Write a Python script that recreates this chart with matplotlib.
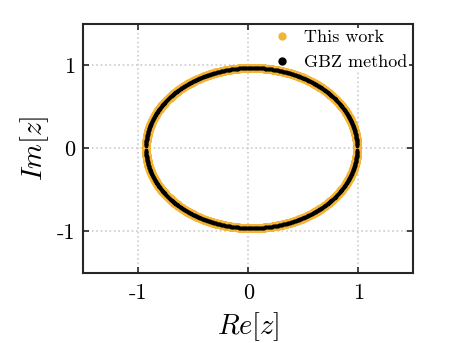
import numpy as np
import matplotlib
matplotlib.use("Agg")
import matplotlib.pyplot as plt

plt.rcParams['mathtext.fontset'] = 'cm'
plt.rcParams['font.family'] = ['cmr10', 'DejaVu Serif']
plt.rcParams['axes.unicode_minus'] = False

# GBZ curve parameters
center_x = 0.03
radius_x = 0.96
radius_y = 0.965
theta_this = np.linspace(0, 2 * np.pi, 800)
theta_gbz = np.concatenate([np.linspace(0.03, np.pi - 0.03, 600),
                            np.linspace(np.pi + 0.03, 2 * np.pi - 0.03, 600)])

xticks = [-1, 0, 1]
yticks = [-1, 0, 1]
tick_labels = ['-1', '0', '1']

W, H = 457, 343
fig = plt.figure(figsize=(W / 100, H / 100), dpi=100)
left, right, top, bottom = 83.3, 413.3, 23.5, 272.5
ax = fig.add_axes([left / W, 1 - bottom / H, (right - left) / W, (bottom - top) / H])

x1 = center_x + radius_x * np.cos(theta_this)
y1 = radius_y * np.sin(theta_this)
x2 = center_x + radius_x * np.cos(theta_gbz)
y2 = radius_y * np.sin(theta_gbz)

ax.plot(x1, y1, 'o', color='#F4B535', markersize=6.5, markeredgewidth=0, label='This work', zorder=6)
ax.plot(x2, y2, 'o', color='black', markersize=2.6, markeredgewidth=0, label='GBZ method', zorder=7)

ax.set_xlim(-1.5, 1.5)
ax.set_ylim(-1.5, 1.5)
ax.set_xticks(xticks)
ax.set_yticks(yticks)
ax.set_xticklabels(tick_labels, fontsize=16)
ax.set_yticklabels(tick_labels, fontsize=16)
ax.tick_params(direction='in', top=True, right=True, length=4, width=1.2, color='#262626')
ax.tick_params(axis='x', pad=8)
ax.tick_params(axis='y', pad=6)
ax.grid(True, linestyle=':', color='#cccccc', linewidth=1.2)
for s in ax.spines.values():
    s.set_linewidth(1.5)
    s.set_color('#262626')

ax.set_xlabel(r'$Re[z]$', fontsize=20.5, labelpad=5)
ax.set_ylabel(r'$Im[z]$', fontsize=20.5, labelpad=4)

leg = ax.legend(loc='upper right', fontsize=13, frameon=True, fancybox=False,
                edgecolor='none', framealpha=1, handletextpad=0.6,
                borderaxespad=0.25, handlelength=1.2,
                borderpad=0.1, labelspacing=0.5)
leg.set_zorder(5)
leg.legend_handles[0].set_markersize(6)
leg.legend_handles[1].set_markersize(6)

fig.savefig('out.png', dpi=100)
